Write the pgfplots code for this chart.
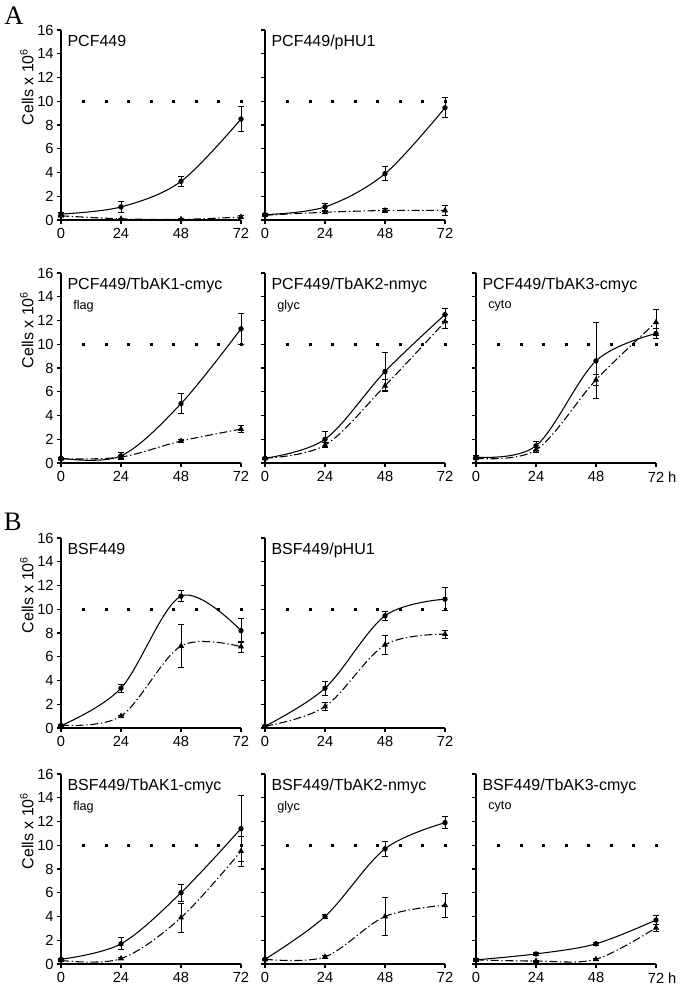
\documentclass[border=0pt]{standalone}
\usepackage{pgfplots}
\pgfplotsset{compat=1.18}
\usepackage{fontspec}
\setmainfont{Liberation Sans}
\newfontfamily\seriffont{Liberation Serif}
\pgfplotsset{
  panel/.style={scale only axis, width=135pt, height=142.5pt, anchor=south west,
    xmin=0, xmax=72, ymin=0, ymax=16,
    axis x line*=bottom, axis y line*=left,
    axis line style={line width=1.3pt, -},
    xtick={0,24,48,72}, ytick={0,2,...,16},
    tick align=outside, major tick length=3pt,
    tick style={line width=0.8pt, black},
    clip=false,
    tick label style={font=\fontsize{11}{12}\selectfont},
    yticklabel style={xshift=1pt},
    /pgf/number format/assume math mode=true},
  noylab/.style={yticklabels={}},
  hlab/.style={xticklabels={0,24,48,{72\rlap{ h}}}},
  sol/.style={black, line width=0.8pt, smooth, tension=0.55, mark=*, mark size=1.6pt,
    error bars/.cd, y dir=both, y explicit,
    error bar style={line width=0.6pt, solid},
    error mark options={rotate=90, mark size=2.2pt, line width=0.6pt, solid}},
  dd/.style={black, line width=0.8pt, smooth, tension=0.55,
    dash pattern=on 6pt off 2pt on 1pt off 2pt,
    mark=triangle*, mark size=1.9pt, mark options={solid},
    error bars/.cd, y dir=both, y explicit,
    error bar style={line width=0.6pt, solid},
    error mark options={rotate=90, mark size=2.2pt, line width=0.6pt, solid}},
  dots/.style={only marks, mark=square*, mark size=0.6pt, black},
}
\newcommand{\tenline}{\addplot[dots] coordinates {(9,10)(18,10)(27,10)(36,10)(45,10)(54,10)(63,10)(72,10)};}
\newcommand{\ttl}[1]{\node[anchor=north west, inner sep=0, font=\fontsize{12}{14}\selectfont] at (rel axis cs:0.035,0.975) {#1};}
\newcommand{\sub}[1]{\node[anchor=north west, inner sep=0, font=\fontsize{9.5}{10}\selectfont] at (rel axis cs:0.067,0.86) {#1};}
\newcommand{\ylab}{\node[rotate=90, font=\fontsize{12}{14}\selectfont] at (rel axis cs:-0.19,0.7) {Cells x 10\textsuperscript{6}};}
\begin{document}
\begin{tikzpicture}
\useasboundingbox (0,0) rectangle (510.75pt,739.5pt);
\node[font=\seriffont\fontsize{20}{22}\selectfont] at (10.5pt,727.5pt) {A};
\node[font=\seriffont\fontsize{20}{22}\selectfont] at (9.5pt,348pt) {B};

% A row 1
\begin{axis}[panel, at={(45.75pt,574.5pt)}]
\tenline
\addplot[sol] coordinates {(0,0.5)+-(0,0.1) (24,1.1)+-(0,0.5) (48,3.25)+-(0,0.4) (72,8.5)+-(0,1.05)};
\addplot[dd] coordinates {(0,0.35)+-(0,0.05) (24,0.1)+-(0,0.05) (48,0.05)+-(0,0.05) (72,0.25)+-(0,0.15)};
\ttl{PCF449}\ylab
\end{axis}
\begin{axis}[panel, noylab, at={(198.75pt,574.5pt)}]
\tenline
\addplot[sol] coordinates {(0,0.45)+-(0,0.1) (24,1.1)+-(0,0.3) (48,3.9)+-(0,0.6) (72,9.45)+-(0,0.85)};
\addplot[dd] coordinates {(0,0.4)+-(0,0.05) (24,0.65)+-(0,0.1) (48,0.8)+-(0,0.2) (72,0.8)+-(0,0.45)};
\ttl{PCF449/pHU1}
\end{axis}

% A row 2
\begin{axis}[panel, at={(45.75pt,392.25pt)}]
\tenline
\addplot[sol] coordinates {(0,0.4)+-(0,0.1) (24,0.6)+-(0,0.3) (48,5.0)+-(0,0.85) (72,11.3)+-(0,1.3)};
\addplot[dd] coordinates {(0,0.35)+-(0,0.05) (24,0.5)+-(0,0.15) (48,1.85)+-(0,0.1) (72,2.85)+-(0,0.3)};
\ttl{PCF449/TbAK1-cmyc}\sub{flag}\ylab
\end{axis}
\begin{axis}[panel, noylab, at={(198.75pt,392.25pt)}]
\tenline
\addplot[sol] coordinates {(0,0.4)+-(0,0.1) (24,2.0)+-(0,0.7) (48,7.7)+-(0,1.6) (72,12.5)+-(0,0.55)};
\addplot[dd] coordinates {(0,0.4)+-(0,0.05) (24,1.5)+-(0,0.2) (48,6.5)+-(0,0.5) (72,11.9)+-(0,0.6)};
\ttl{PCF449/TbAK2-nmyc}\sub{glyc}
\end{axis}
\begin{axis}[panel, noylab, hlab, at={(357pt,392.25pt)}]
\tenline
\addplot[sol] coordinates {(0,0.5)+-(0,0.1) (24,1.45)+-(0,0.4) (48,8.6)+-(0,3.2) (72,10.9)+-(0,0.4)};
\addplot[dd] coordinates {(0,0.4)+-(0,0.05) (24,1.1)+-(0,0.2) (48,7.0)+-(0,0.5) (72,11.85)+-(0,1.1)};
\ttl{PCF449/TbAK3-cmyc}\sub{cyto}
\end{axis}

% B row 1
\begin{axis}[panel, at={(45.75pt,193.5pt)}]
\tenline
\addplot[sol] coordinates {(0,0.2)+-(0,0.1) (24,3.35)+-(0,0.35) (48,11.1)+-(0,0.45) (72,8.2)+-(0,1.0)};
\addplot[dd] coordinates {(0,0.25)+-(0,0.05) (24,1.0)+-(0,0.1) (48,6.9)+-(0,1.8) (72,6.85)+-(0,0.45)};
\ttl{BSF449}\ylab
\end{axis}
\begin{axis}[panel, noylab, at={(198.75pt,193.5pt)}]
\tenline
\addplot[sol] coordinates {(0,0.15)+-(0,0.1) (24,3.35)+-(0,0.6) (48,9.45)+-(0,0.35) (72,10.85)+-(0,0.95)};
\addplot[dd] coordinates {(0,0.15)+-(0,0.05) (24,1.8)+-(0,0.35) (48,7.0)+-(0,0.8) (72,7.9)+-(0,0.35)};
\ttl{BSF449/pHU1}
\end{axis}

% B row 2
\begin{axis}[panel, at={(45.75pt,16.5pt)}]
\tenline
\addplot[sol] coordinates {(0,0.4)+-(0,0.1) (24,1.7)+-(0,0.5) (48,6.0)+-(0,0.7) (72,11.4)+-(0,2.8)};
\addplot[dd] coordinates {(0,0.3)+-(0,0.05) (24,0.45)+-(0,0.1) (48,3.9)+-(0,1.2) (72,9.5)+-(0,1.25)};
\ttl{BSF449/TbAK1-cmyc}\sub{flag}\ylab
\end{axis}
\begin{axis}[panel, noylab, at={(198.75pt,16.5pt)}]
\tenline
\addplot[sol] coordinates {(0,0.4)+-(0,0.1) (24,4.0)+-(0,0.15) (48,9.7)+-(0,0.6) (72,11.9)+-(0,0.5)};
\addplot[dd] coordinates {(0,0.4)+-(0,0.05) (24,0.6)+-(0,0.15) (48,4.0)+-(0,1.6) (72,4.95)+-(0,1.0)};
\ttl{BSF449/TbAK2-nmyc}\sub{glyc}
\end{axis}
\begin{axis}[panel, noylab, hlab, at={(357pt,16.5pt)}]
\tenline
\addplot[sol] coordinates {(0,0.35)+-(0,0.1) (24,0.85)+-(0,0.1) (48,1.7)+-(0,0.15) (72,3.7)+-(0,0.4)};
\addplot[dd] coordinates {(0,0.35)+-(0,0.05) (24,0.25)+-(0,0.05) (48,0.4)+-(0,0.1) (72,3.05)+-(0,0.3)};
\ttl{BSF449/TbAK3-cmyc}\sub{cyto}
\end{axis}
\end{tikzpicture}
\end{document}
